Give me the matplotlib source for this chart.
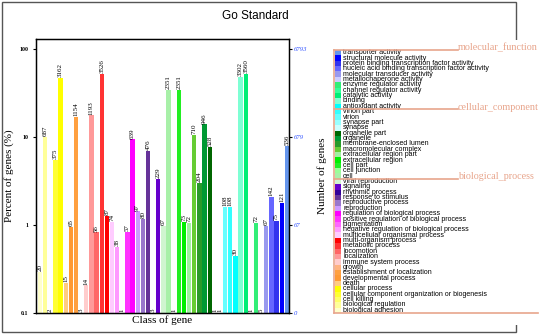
import matplotlib
matplotlib.use("Agg")
import matplotlib.pyplot as plt
from matplotlib.patches import Rectangle
from matplotlib.lines import Line2D

W, H = 550, 335
total_genes = 6793

categories = [
    "biological adhesion", "biological regulation", "cell killing",
    "cellular component organization or biogenesis", "cellular process", "death",
    "developmental process", "establishment of localization", "growth",
    "immune system process", "localization", "locomotion", "metabolic process",
    "multi-organism process", "multicellular organismal process",
    "negative regulation of biological process", "pigmentation",
    "positive regulation of biological process", "regulation of biological process",
    "reproduction", "reproductive process", "response to stimulus",
    "rhythmic process", "signaling", "viral reproduction",
    "cell", "cell junction", "cell part", "extracellular region",
    "extracellular region part", "macromolecular complex",
    "membrane-enclosed lumen", "organelle", "organelle part", "synapse",
    "synapse part", "virion", "virion part",
    "antioxidant activity", "binding", "catalytic activity",
    "channel regulator activity", "enzyme regulator activity",
    "metallochaperone activity", "molecular transducer activity",
    "nucleic acid binding transcription factor activity",
    "protein binding transcription factor activity",
    "structural molecule activity", "transporter activity",
]

gene_counts = [
    20, 687, 2, 375, 3162, 15, 65, 1154, 3, 14, 1193, 56, 3526, 87, 74, 38, 1,
    57, 639, 97, 80, 476, 3, 229, 67,
    2351, 1, 2351, 73, 72, 710, 204, 946, 528, 1, 1, 108, 108,
    30, 3302, 3560, 1, 72, 5, 67, 142, 75, 121, 536,
]

bar_colors = [
    "#ffffcc", "#ffff99", "#ffff66", "#ffff33", "#ffff00", "#ffcc80",
    "#ff9933", "#ffa040", "#ffb380", "#ffcccc", "#ff9999", "#ff6666",
    "#ff3333", "#ff0000", "#ffccff", "#ff99ff", "#ff66ff", "#ff33ff",
    "#ff00ff", "#cc99ff", "#9977cc", "#663399", "#330099", "#6600cc",
    "#d0f5d0",
    "#a8f0a8", "#99ff99", "#22ee22", "#00ee00", "#a0f0a0", "#66cc33",
    "#2a9a2a", "#009933", "#006600", "#ccffff", "#99ffff", "#66ffff",
    "#33ffff",
    "#00ffff", "#7fffd4", "#00ee76", "#33ff99", "#33ee77", "#ccccff",
    "#9999ee", "#6666ff", "#3333ee", "#0000ff", "#6495ed",
]

sections = ["molecular_function", "cellular_component", "biological_process"]
section_sizes = [11, 13, 25]

left_ticks = [0.1, 1, 10, 100]
left_ticklabels = ["0.1", "1", "10", "100"]
right_ticklabels = ["0", "67", "679", "6793"]

percents = [c / total_genes * 100 for c in gene_counts]

fig = plt.figure(figsize=(W / 100, H / 100), dpi=100)

def fx(x):
    return x / W

def fy(y):
    return 1 - y / H

# outer frame
fig.patches.append(Rectangle((fx(2), fy(332)), fx(516) - fx(2), fy(2) - fy(332),
                             transform=fig.transFigure, fill=False,
                             edgecolor="#555555", linewidth=1.0, zorder=0))

ax = fig.add_axes([fx(36), fy(313), fx(289) - fx(36), fy(39) - fy(313)])
x = list(range(len(categories)))
ax.bar(x, percents, width=0.82, color=bar_colors, bottom=0, zorder=2)
ax.set_yscale("log")
ax.set_ylim(0.1, 130)
ax.set_xlim(-0.78, 48.42)
ax.set_xticks([])
ax.set_yticks(left_ticks)
ax.set_yticklabels(left_ticklabels, fontfamily="Liberation Serif",
                   fontweight="bold", fontsize=4.3)
ax.yaxis.set_minor_locator(matplotlib.ticker.NullLocator())
ax.tick_params(axis="y", length=2.2, width=0.8, pad=3.5)
for s in ax.spines.values():
    s.set_linewidth(1.0)
ax.set_ylabel("Percent of genes (%)", fontfamily="Liberation Serif",
              fontsize=8, labelpad=4)
ax.set_xlabel("Class of gene", fontfamily="Liberation Serif", fontsize=8,
              labelpad=2)

for xi, p, c in zip(x, percents, gene_counts):
    ax.annotate(str(c), (xi, max(p, 0.1)), xytext=(0, 0.6),
                textcoords="offset points", rotation=90, ha="center",
                va="bottom", fontsize=5, fontfamily="Liberation Serif",
                zorder=3)

ax2 = ax.twinx()
ax2.set_yscale("log")
ax2.set_ylim(0.1, 130)
ax2.set_yticks(left_ticks)
ax2.set_yticklabels(right_ticklabels, fontfamily="Liberation Serif",
                    fontstyle="italic", fontsize=4.8, color="#3355ff")
ax2.yaxis.set_minor_locator(matplotlib.ticker.NullLocator())
ax2.tick_params(axis="y", length=2.2, width=0.8, pad=1.5)
ax2.set_ylabel("Number of genes", fontfamily="Liberation Serif", fontsize=8,
               labelpad=7)

fig.text(fx(255), fy(16), "Go Standard", ha="center", va="center",
         fontfamily="Liberation Sans", fontsize=8.5)

# legend panel
fig.patches.append(Rectangle((fx(330), fy(325)), fx(550) - fx(330), fy(40) - fy(325),
                             transform=fig.transFigure, facecolor="white",
                             edgecolor="none", zorder=1))
sal = "#e8a58c"
top, bottom = 50, 313
n = len(categories)
rh = (bottom - top) / n
leg_names = categories[::-1]
leg_colors = bar_colors[::-1]
for i, (nm, col) in enumerate(zip(leg_names, leg_colors)):
    y0 = top + i * rh
    fig.patches.append(Rectangle((fx(335), fy(y0 + rh)), fx(341) - fx(335), rh / H,
                                 transform=fig.transFigure, facecolor=col,
                                 edgecolor="none", zorder=2))
    fig.text(fx(343), fy(y0 + rh / 2), nm, ha="left", va="center",
             fontfamily="Liberation Sans", fontsize=5.0, zorder=3)

start = 0
for name, size in zip(sections, section_sizes):
    ly = top + start * rh
    fig.add_artist(Line2D([fx(334), fx(458)], [fy(ly), fy(ly)],
                          transform=fig.transFigure, color=sal, lw=1.2, zorder=4))
    fig.text(fx(458), fy(ly + 0.5), name, ha="left", va="baseline",
             fontfamily="Liberation Serif", fontsize=7.3, color=sal, zorder=4)
    start += size
fig.add_artist(Line2D([fx(334), fx(334)], [fy(top), fy(bottom)],
                      transform=fig.transFigure, color=sal, lw=1.2, zorder=4))
fig.add_artist(Line2D([fx(334), fx(538)], [fy(bottom), fy(bottom)],
                      transform=fig.transFigure, color=sal, lw=1.2, zorder=4))

fig.savefig("out.png", dpi=100)
